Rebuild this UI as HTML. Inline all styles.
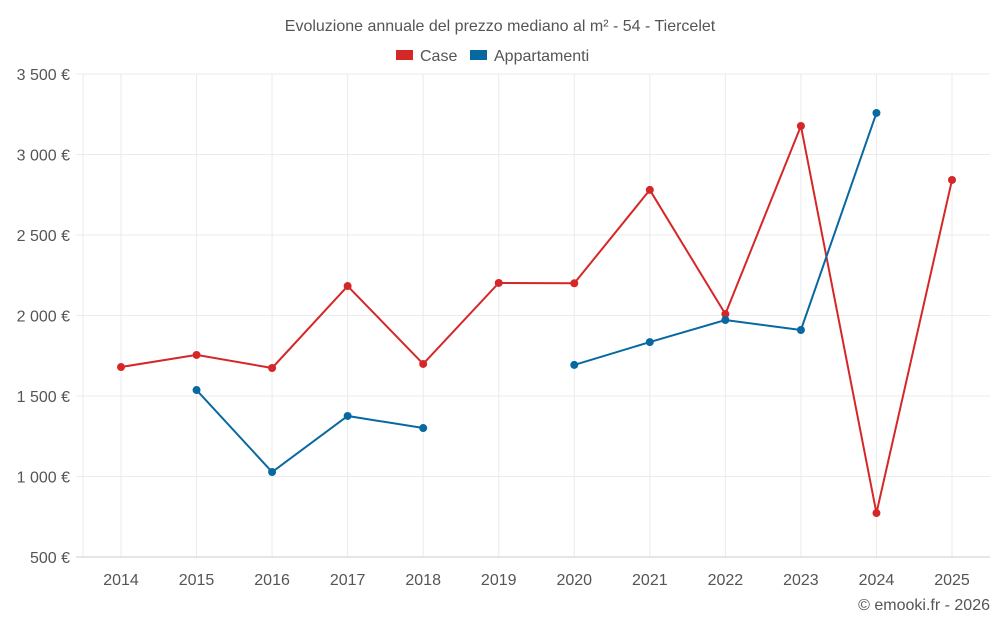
<!DOCTYPE html>
<html><head><meta charset="utf-8"><style>
body{margin:0;background:#fff;font-family:"Liberation Sans",sans-serif;}
svg text{font-family:"Liberation Sans",sans-serif;}
</style></head><body>
<svg id="chart" width="1000" height="625" xmlns="http://www.w3.org/2000/svg">
<text x="500" y="31" text-anchor="middle" font-size="16" fill="#555">Evoluzione annuale del prezzo mediano al m² - 54 - Tiercelet</text>
<g><rect x="396" y="50" width="17" height="10" fill="#d62728"/><text x="420" y="61" font-size="16" fill="#555">Case</text></g>
<g><rect x="470" y="50" width="17" height="10" fill="#0868a0"/><text x="494" y="61" font-size="16" fill="#555">Appartamenti</text></g>
<g id="grid"></g><g id="axes"></g><g id="series"></g>
<text x="990" y="610" text-anchor="end" font-size="16" fill="#555">© emooki.fr - 2026</text>
</svg>
<script>
const years=[2014,2015,2016,2017,2018,2019,2020,2021,2022,2023,2024,2025];
const caseValues=[1680,1755,1674,2183,1699,2202,2200,2780,2009,3177,773,2842];
const apptValues=[null,1537,1028,1376,1301,null,1693,1835,1972,1910,3258,null];
const yTicks=[500,1000,1500,2000,2500,3000,3500];
const yTickLabels=["500 €","1 000 €","1 500 €","2 000 €","2 500 €","3 000 €","3 500 €"];
const NS="http://www.w3.org/2000/svg";
const L=83,R=990,T=74,B=557;
function x(i){return 121+i*(952-121)/(years.length-1);}
function y(v){return B-(v-500)/3000*(B-T);}
function mk(tag,at,parent){const e=document.createElementNS(NS,tag);for(const k in at)e.setAttribute(k,at[k]);document.getElementById(parent).appendChild(e);return e;}
let e=mk('line',{x1:L,x2:L,y1:T,y2:B,stroke:'#ebebeb'},'grid');


years.forEach((yr,i)=>{
 let g=mk('line',{x1:x(i),x2:x(i),y1:T,y2:B,stroke:'#ebebeb'},'grid');
 
 
 let t=mk('text',{x:x(i),y:585,'text-anchor':'middle','font-size':16,fill:'#555'},'axes');
 t.textContent=yr;
 
 
});
yTicks.forEach((v,i)=>{
 let g=mk('line',{x1:76,x2:R,y1:y(v),y2:y(v),stroke:v===500?'#ccc':'#ebebeb'},'grid');
 
 
 let t=mk('text',{x:70,y:y(v)+6,'text-anchor':'end','font-size':16,fill:'#555'},'axes');
 t.textContent=yTickLabels[i];
 
 
});
function draw(vals,color,name){
 let segs=[],cur=[];
 vals.forEach((v,i)=>{if(v==null){if(cur.length)segs.push(cur);cur=[];}else cur.push([x(i),y(v)]);});
 if(cur.length)segs.push(cur);
 segs.forEach((s,k)=>{
  let p=mk('polyline',{points:s.map(q=>q.join(',')).join(' '),fill:'none',stroke:color,'stroke-width':2},'series');
  
  
 });
 vals.forEach((v,i)=>{if(v==null)return;
  let c=mk('circle',{cx:x(i),cy:y(v),r:4,fill:color},'series');
  
  
 });
}
draw(caseValues,'#d62728','case');
draw(apptValues,'#0868a0','appartamenti');
</script>
</body></html>
